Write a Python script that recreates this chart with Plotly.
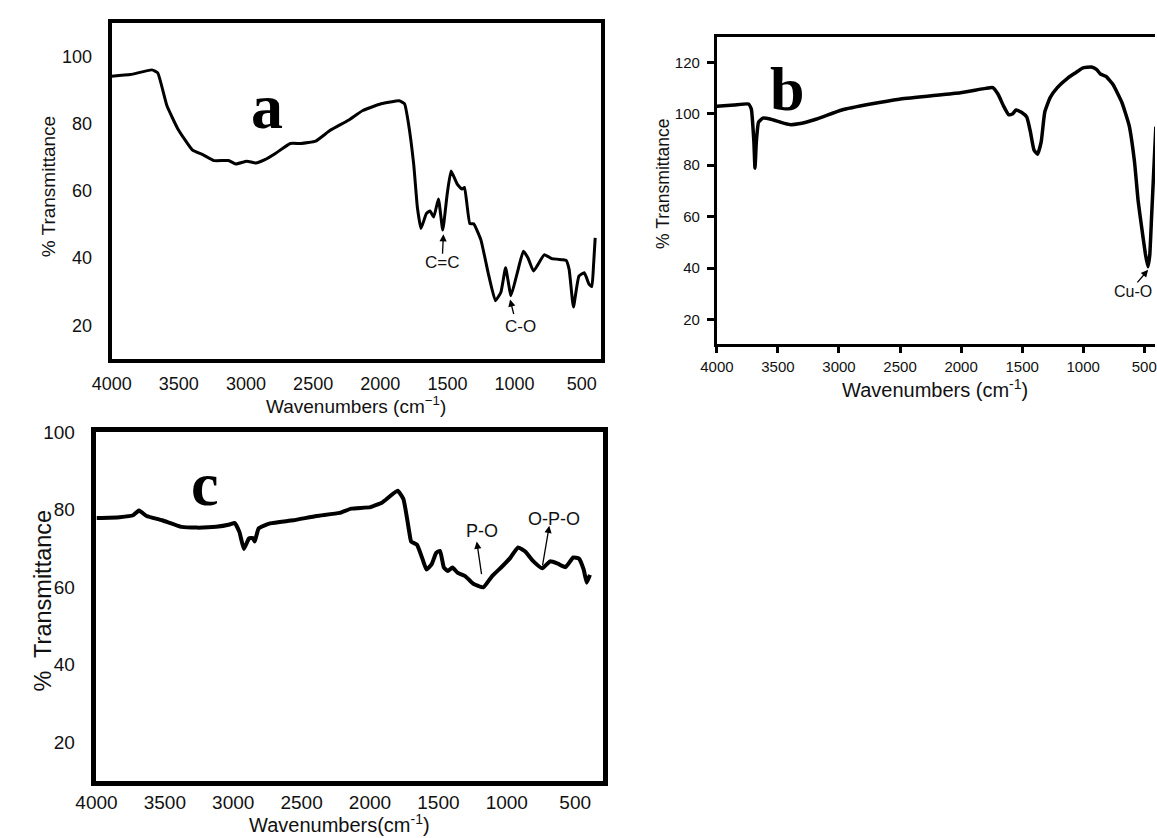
import plotly.graph_objects as go

W, H = 1157, 838

# ---------------- data ----------------
a_wn = [4000, 3860, 3700, 3657, 3589, 3508, 3400, 3319, 3238, 3130, 3076, 2994, 2927, 2859, 2778,
        2670, 2589, 2481, 2373, 2238, 2130, 1994, 1859, 1819, 1792, 1751, 1724, 1697, 1657, 1630,
        1602, 1567, 1535, 1502, 1473, 1427, 1392, 1373, 1333, 1305, 1251, 1197, 1143, 1102, 1067,
        1027, 980, 935, 900, 859, 778, 724, 643, 616, 594, 562, 521, 481, 446, 425, 412, 400]
a_t = [94.1, 94.6, 96.0, 95.1, 85.4, 78.5, 72.2, 70.7, 69.0, 69.0, 68.0, 68.8, 68.3, 69.3, 71.2,
       74.1, 74.1, 74.8, 78.0, 81.0, 83.9, 85.9, 86.8, 85.9, 80.5, 67.8, 55.1, 48.8, 53.2, 54.0,
       52.2, 57.6, 48.3, 59.0, 65.9, 62.0, 60.5, 61.0, 50.2, 50.2, 45.4, 35.6, 27.3, 29.8, 37.1,
       28.8, 35.6, 42.0, 40.0, 36.1, 41.0, 39.8, 39.5, 39.3, 36.6, 25.4, 34.6, 35.6, 32.2, 31.5, 38.0, 46.0]

b_wn = [4000, 3859, 3741, 3718, 3697, 3688, 3677, 3659, 3624, 3565, 3477, 3403, 3330, 3182, 2977,
        2741, 2506, 2241, 2006, 1800, 1741, 1697, 1653, 1609, 1580, 1550, 1506, 1462, 1432, 1403,
        1374, 1344, 1315, 1271, 1212, 1124, 1065, 1006, 933, 889, 859, 815, 756, 683, 624, 580,
        550, 521, 491, 470, 455, 440, 425, 405]
b_t = [102.9, 103.4, 103.8, 101.9, 89.1, 78.8, 89.1, 96.7, 98.3, 98.0, 96.7, 95.8, 96.1, 98.0, 101.5,
       103.8, 105.7, 107.0, 108.2, 109.9, 110.2, 107.6, 103.1, 99.6, 99.9, 101.5, 100.6, 98.7, 92.9, 85.9,
       84.3, 89.1, 100.6, 106.3, 110.2, 114.0, 115.9, 117.8, 118.2, 117.2, 115.5, 114.6, 111.4, 104.4, 95.5, 81.4,
       66.1, 55.8, 45.6, 40.5, 45.0, 60.0, 75.0, 95.0]

c_wn = [4000, 3831, 3732, 3689, 3633, 3520, 3379, 3266, 3125, 3026, 2989, 2955, 2922, 2885, 2857,
        2843, 2814, 2730, 2560, 2391, 2222, 2137, 1996, 1911, 1798, 1756, 1713, 1699, 1657, 1615,
        1587, 1550, 1516, 1488, 1460, 1431, 1397, 1361, 1304, 1248, 1171, 1107, 1036, 974, 918,
        867, 805, 740, 683, 627, 571, 514, 472, 438, 415, 392]
c_t = [77.8, 78.0, 78.5, 79.7, 78.3, 77.2, 75.5, 75.3, 75.5, 76.1, 76.5, 74.2, 69.8, 72.5, 72.6,
       71.7, 75.1, 76.4, 77.2, 78.3, 79.1, 80.2, 80.6, 81.8, 84.8, 82.7, 74.2, 71.7, 70.9, 67.1,
       64.5, 65.8, 68.8, 69.3, 65.0, 64.1, 65.0, 63.7, 62.8, 60.9, 59.9, 62.8, 65.2, 67.5, 70.2,
       69.2, 66.6, 64.8, 66.6, 66.0, 65.1, 67.6, 67.3, 64.5, 61.1, 63.1]

x_ticks = [4000, 3500, 3000, 2500, 2000, 1500, 1000, 500]
ya_ticks = [20, 40, 60, 80, 100]
yb_ticks = [20, 40, 60, 80, 100, 120]
yc_ticks = [20, 40, 60, 80, 100]

SANS = "Liberation Sans, Arial, sans-serif"
SERIF = "Liberation Serif, Times New Roman, serif"


def px(x):
    return x / W


def py(y):
    return 1 - y / H


fig = go.Figure()
fig.add_trace(go.Scatter(x=a_wn, y=a_t, mode="lines", xaxis="x", yaxis="y",
                         line=dict(color="black", width=3, shape="spline", smoothing=0.4)))
fig.add_trace(go.Scatter(x=b_wn, y=b_t, mode="lines", xaxis="x2", yaxis="y2",
                         line=dict(color="black", width=3.5, shape="spline", smoothing=0.4)))
fig.add_trace(go.Scatter(x=c_wn, y=c_t, mode="lines", xaxis="x3", yaxis="y3",
                         line=dict(color="black", width=4, shape="spline", smoothing=0.4)))

common = dict(showgrid=False, zeroline=False, linecolor="black", tickcolor="black",
              ticklabeloverflow="allow")

layout = dict(
    width=W, height=H, margin=dict(l=0, r=0, t=0, b=0),
    paper_bgcolor="white", plot_bgcolor="white", showlegend=False,
    font=dict(family=SANS, color="#111"),
    # panel a
    xaxis=dict(domain=[px(92.5), px(592)], range=[4000, 355], anchor="y",
               showline=True, linewidth=4, mirror=True, ticks="",
               tickvals=x_ticks, tickfont=dict(size=18), ticklabelstandoff=6, **common),
    yaxis=dict(domain=[py(353), py(13)], range=[10, 110], anchor="x",
               showline=True, linewidth=4, mirror=True, ticks="",
               tickvals=ya_ticks, tickfont=dict(size=18), ticklabelstandoff=12, **common),
    # panel b
    xaxis2=dict(domain=[px(710), 1.0], range=[4000, 412], anchor="y2",
                showline=True, linewidth=3, mirror=True, ticks="outside", ticklen=6, tickwidth=3,
                tickvals=x_ticks, tickfont=dict(size=15), ticklabelstandoff=1, **common),
    yaxis2=dict(domain=[py(338), py(27)], range=[10.5, 130], anchor="x2",
                showline=True, linewidth=3, mirror=False, ticks="outside", ticklen=7, tickwidth=3,
                tickvals=yb_ticks, tickfont=dict(size=15), ticklabelstandoff=4, **common),
    # panel c
    xaxis3=dict(domain=[px(77), px(594)], range=[4000, 295], anchor="y3",
                showline=True, linewidth=4.5, mirror=True, ticks="",
                tickvals=x_ticks, tickfont=dict(size=19), ticklabelstandoff=1, **common),
    yaxis3=dict(domain=[py(780), py(427)], range=[10, 100], anchor="x3",
                showline=True, linewidth=4.5, mirror=True, ticks="",
                tickvals=yc_ticks, tickfont=dict(size=19), ticklabelstandoff=13, **common),
)
fig.update_layout(**layout)

ann = []


def text(x, y, s, size, family=SANS, angle=0, xanchor="center", color="#111"):
    ann.append(dict(x=px(x), y=py(y), xref="paper", yref="paper", text=s, showarrow=False,
                    font=dict(family=family, size=size, color=color), textangle=angle,
                    xanchor=xanchor, yanchor="middle"))


def arrow(tip, tail):
    ann.append(dict(x=px(tip[0]), y=py(tip[1]), xref="paper", yref="paper", text="",
                    showarrow=True, ax=tail[0] - tip[0], ay=tail[1] - tip[1],
                    arrowhead=2, arrowsize=1.1, arrowwidth=1.3, arrowcolor="black"))


# axis titles
text(28, 178, "% Transmittance", 19, angle=-90)
text(342, 400, "Wavenumbers (cm<sup>\u22121</sup>)", 19)
text(655, 176, "% Transmittance", 17.5, angle=-90)
text(933, 383, "Wavenumbers (cm<sup>-1</sup>)", 20)
text(22, 598, "%  Transmittance", 23.5, angle=-90)
text(325, 823, "Wavenumbers(cm<sup>-1</sup>)", 20)

# panel letters
text(251, 98, "<b>a</b>", 64, family=SERIF, color="black")
text(782, 80, "<b>b</b>", 62, family=SERIF, color="black")
text(188, 480, "<b>c</b>", 62, family=SERIF, color="black")

# band labels
text(430, 256, "C=C", 17)
arrow((431, 227), (430, 248))
text(510, 320, "C-O", 17)
arrow((499, 293), (503, 309))
text(1113, 285, "Cu-O", 16, xanchor="left")
arrow((1150, 263), (1138, 277))
text(470, 527, "P-O", 18)
arrow((465, 538), (470, 572))
text(544, 515, "O-P-O", 18)
arrow((539, 522), (532, 563))

fig.update_layout(annotations=ann)
fig.write_html("out.html")
